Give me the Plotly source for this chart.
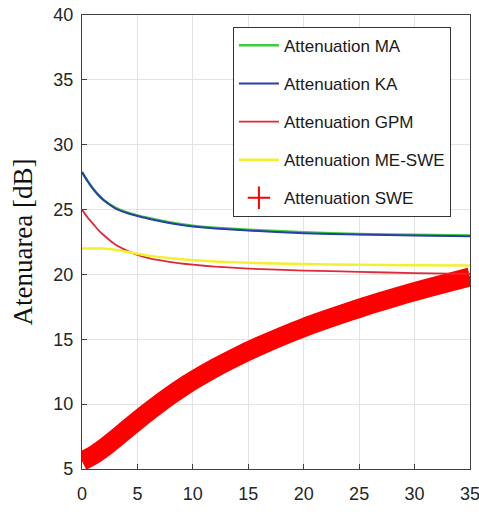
import plotly.graph_objects as go

x_curves = [0, 0.5, 1, 1.5, 2, 3, 4, 5, 6, 8, 10, 12, 15, 20, 25, 30, 35]
att_ma  = [27.9, 27.2, 26.6, 26.1, 25.7, 25.15, 24.8, 24.55, 24.35, 24.0, 23.75, 23.6, 23.45, 23.25, 23.12, 23.05, 23.0]
att_ka  = [27.9, 27.2, 26.6, 26.1, 25.7, 25.1, 24.75, 24.5, 24.3, 23.95, 23.7, 23.55, 23.38, 23.18, 23.07, 23.0, 22.95]
att_gpm = [25.0, 24.4, 23.9, 23.4, 23.0, 22.3, 21.85, 21.5, 21.25, 20.95, 20.75, 20.6, 20.45, 20.3, 20.2, 20.1, 20.05]
att_me  = [22.0, 22.0, 22.0, 22.0, 22.0, 21.9, 21.75, 21.6, 21.45, 21.25, 21.1, 21.0, 20.9, 20.8, 20.75, 20.7, 20.68]

x_swe   = [0, 1, 2, 3, 4, 5, 6, 7, 8, 9, 10, 12, 14, 16, 18, 20, 22, 24, 26, 28, 30, 32, 35]
att_swe = [5.6, 6.05, 6.65, 7.33, 8.03, 8.73, 9.41, 10.06, 10.68, 11.26, 11.81, 12.8, 13.68,
           14.48, 15.22, 15.9, 16.52, 17.1, 17.66, 18.18, 18.68, 19.14, 19.8]

x_ticks = [0, 5, 10, 15, 20, 25, 30, 35]
y_ticks = [5, 10, 15, 20, 25, 30, 35, 40]

tick_font = dict(family="Liberation Sans Narrow, Arial Narrow, Liberation Sans", size=18, color="#262626")
leg_font = dict(family="Liberation Sans Narrow, Arial Narrow, Liberation Sans", size=17, color="#1a1a1a")

fig = go.Figure()
fig.add_trace(go.Scatter(x=x_swe, y=att_swe, mode="lines", line=dict(color="#ff0000", width=19, shape="spline", smoothing=0.8),
                         showlegend=False, hoverinfo="skip"))
fig.add_trace(go.Scatter(x=x_curves, y=att_ma, mode="lines", name="Attenuation MA",
                         line=dict(color="#3ccc3c", width=2.5, shape="spline", smoothing=0.6), legendgroup="a"))
fig.add_trace(go.Scatter(x=x_curves, y=att_ka, mode="lines", name="Attenuation KA",
                         line=dict(color="#2b3fa8", width=2, shape="spline", smoothing=0.6), legendgroup="b"))
fig.add_trace(go.Scatter(x=x_curves, y=att_gpm, mode="lines", name="Attenuation GPM",
                         line=dict(color="#e02a3a", width=1.8, shape="spline", smoothing=0.6), legendgroup="c"))
fig.add_trace(go.Scatter(x=x_curves, y=att_me, mode="lines", name="Attenuation ME-SWE",
                         line=dict(color="#f4f030", width=2.5, shape="spline", smoothing=0.6), legendgroup="d"))
fig.add_trace(go.Scatter(x=[None], y=[None], mode="markers", name="Attenuation SWE",
                         marker=dict(symbol="cross-thin", size=16, color="#ff0000",
                                     line=dict(color="#ff0000", width=2)), legendgroup="e"))

fig.update_layout(
    width=479, height=512,
    margin=dict(l=82, r=9, t=15, b=43),
    paper_bgcolor="white", plot_bgcolor="white",
    legend=dict(x=0.389, y=0.974, xanchor="left", yanchor="top",
                bgcolor="white", bordercolor="#333333", borderwidth=1,
                font=leg_font, tracegroupgap=13, itemwidth=40),
    xaxis=dict(range=[0, 35], tickvals=x_ticks, tickfont=tick_font,
               showgrid=True, gridcolor="#e3e3e3", gridwidth=1,
               showline=True, linecolor="#404040", linewidth=1.2, mirror=True,
               ticks="inside", ticklen=5, tickcolor="#404040", zeroline=False,
               ticklabelstandoff=8, automargin=False, ticklabeloverflow="allow"),
    yaxis=dict(range=[5, 40], tickvals=y_ticks, tickfont=tick_font,
               showgrid=True, gridcolor="#e3e3e3", gridwidth=1,
               showline=True, linecolor="#404040", linewidth=1.2, mirror=True,
               ticks="inside", ticklen=5, tickcolor="#404040", zeroline=False,
               ticklabelstandoff=4, automargin=False, ticklabeloverflow="allow",
               title=dict(text="Atenuarea [dB]", font=dict(family="Liberation Serif, Times New Roman, serif",
                                                              size=27, color="#111111"), standoff=12)),
)

fig.write_html("out.html")
